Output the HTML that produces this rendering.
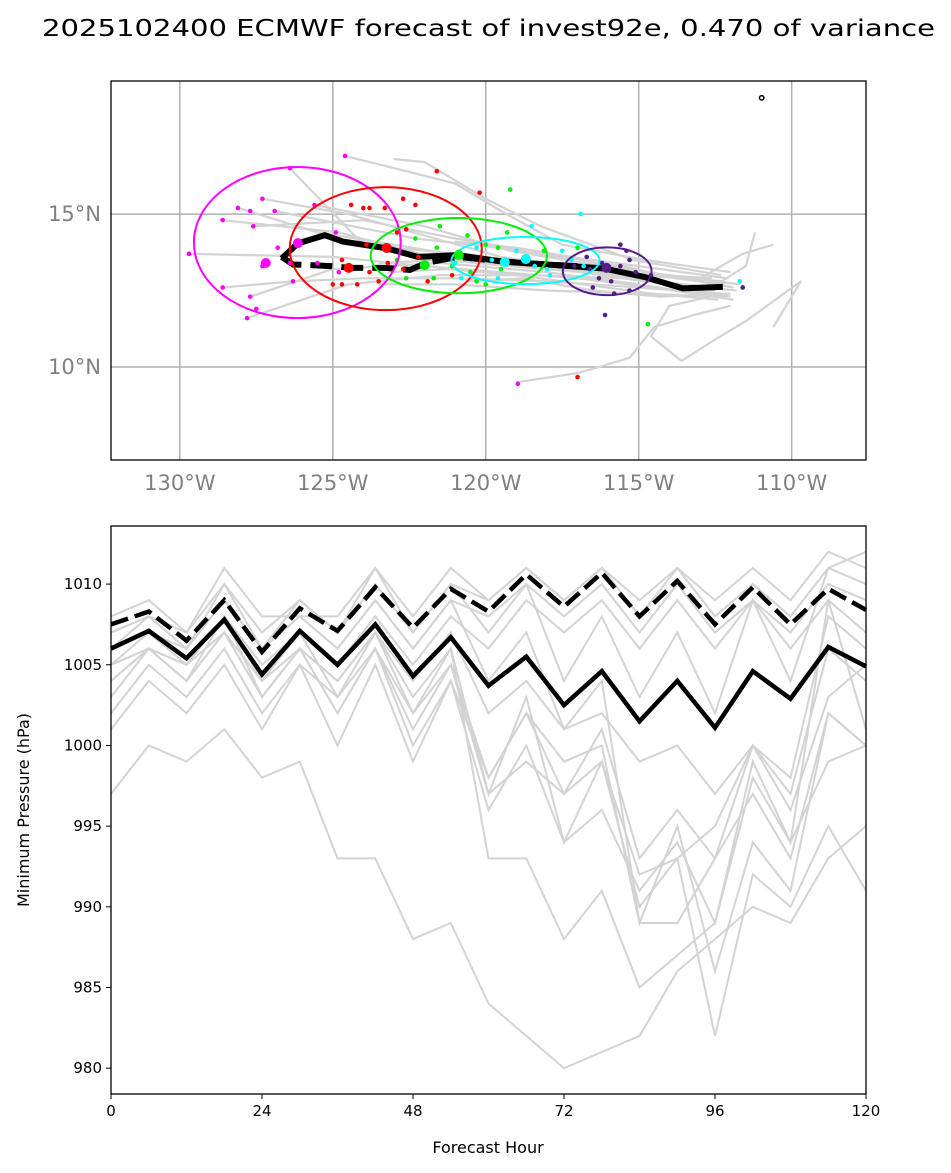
<!DOCTYPE html>
<html><head><meta charset="utf-8"><style>
body{margin:0;background:#fff;}
svg{display:block;font-family:"DejaVu Sans","Liberation Sans",sans-serif;}
</style></head><body>
<svg id="fig" width="951" height="1173" viewBox="0 0 951 1173">
<text x="42" y="36" font-size="23" textLength="893" lengthAdjust="spacingAndGlyphs">2025102400 ECMWF forecast of invest92e, 0.470 of variance</text>
<g id="map"></g>
<g id="pres"></g>
</svg>
<script>
// ---------- MAP DATA ----------
const meanTrack=[[-126.67,13.55],[-126.14,14.04],[-125.26,14.31],[-124.67,14.1],[-123.24,13.88],[-122.22,13.6],[-120.92,13.66],[-119.38,13.44],[-117.68,13.33],[-116.14,13.22],[-114.84,12.95],[-113.56,12.57],[-112.25,12.62]];
const medianTrack=[[-126.67,13.6],[-126.3,13.35],[-125.75,13.33],[-125.07,13.3],[-124.41,13.24],[-123.24,13.24],[-122.48,13.17],[-121.96,13.4],[-120.92,13.6],[-119.4,13.45],[-118.0,13.35],[-117.0,13.3]];
const ellipseColors=["#ff00ff","#ff0000","#00ee00","#00ffff","#551a8b"];
const ellipseCenters=[[-126.16,14.07],[-123.27,13.87],[-120.88,13.64],[-118.7,13.48],[-116.03,13.13]];
const ellipseRadii=[[3.38,2.47],[3.14,2.01],[2.88,1.23],[2.42,0.77],[1.45,0.78]];
const bigDots=[[-127.19,13.4,0],[-126.14,14.05,0],[-124.48,13.24,1],[-123.24,13.89,1],[-122.0,13.33,2],[-120.88,13.66,2],[-119.38,13.43,3],[-118.69,13.53,3],[-116.05,13.24,4]];
const magentaDots=[[-129.7,13.7],[-128.6,14.8],[-128.1,15.2],[-127.7,15.1],[-127.6,14.6],[-127.3,15.5],[-126.4,16.5],[-126.9,15.1],[-124.6,16.9],[-128.6,12.6],[-127.8,11.6],[-127.7,12.3],[-127.3,13.3],[-126.8,13.9],[-126.3,12.8],[-125.5,13.4],[-127.5,11.9],[-124.9,14.4],[-125.6,15.3],[-126.4,13.4],[-124.8,13.1],[-118.95,9.45]];
const redDots=[[-124.4,15.3],[-124.0,15.2],[-123.8,15.2],[-123.3,15.2],[-122.7,15.5],[-122.3,15.3],[-122.9,14.4],[-121.6,16.4],[-120.2,15.7],[-124.7,13.5],[-124.4,13.2],[-124.7,12.7],[-124.2,12.7],[-123.8,13.1],[-123.2,13.4],[-122.7,13.2],[-122.2,13.6],[-121.9,12.8],[-121.1,13.0],[-123.9,14.0],[-122.6,14.5],[-117.0,9.67],[-125.0,12.7],[-123.5,12.8]];
const greenDots=[[-119.2,15.8],[-121.5,14.6],[-122.3,14.2],[-121.6,13.9],[-120.6,14.3],[-120.0,14.0],[-119.6,13.9],[-119.3,14.4],[-120.5,13.1],[-121.7,12.9],[-122.6,12.9],[-122.9,13.5],[-120.0,12.7],[-118.1,13.8],[-114.7,11.4],[-121.1,13.3],[-119.5,13.2],[-120.3,12.8],[-117.0,13.9]];
const cyanDots=[[-116.9,15.0],[-118.5,14.6],[-120.3,13.9],[-119.8,13.5],[-119.0,13.8],[-118.4,13.3],[-117.9,13.0],[-119.6,12.9],[-120.8,12.9],[-117.2,13.5],[-116.8,13.3],[-117.5,13.8],[-111.7,12.8],[-121.0,13.4],[-118.0,13.2]];
const purpleDots=[[-115.6,14.0],[-115.4,13.8],[-116.2,13.4],[-116.5,12.6],[-115.8,12.4],[-115.3,12.5],[-114.6,13.0],[-115.1,13.1],[-116.6,13.2],[-116.1,11.7],[-117.1,13.3],[-115.6,13.3],[-111.6,12.6],[-116.3,12.9],[-115.9,12.8],[-116.7,13.6],[-115.3,13.5]];
const grayTracks=[
[[-111.8,12.5],[-114,12.7],[-116,13.0],[-118.5,13.4],[-121,13.7],[-124,14.0],[-126.4,16.5]],
[[-112,12.3],[-114.5,12.8],[-117,13.2],[-119.5,13.6],[-122,14.3],[-124.5,15.0],[-127.3,15.5]],
[[-112.2,12.8],[-115,13.0],[-117.5,13.3],[-120,13.5],[-123,14.0],[-125.5,14.4],[-128.1,15.2]],
[[-111.9,12.2],[-114.5,12.6],[-117,12.9],[-119.5,13.1],[-122,13.3],[-125,13.6],[-129.7,13.7]],
[[-112.3,12.4],[-115,12.6],[-118,12.8],[-121,12.9],[-124,12.9],[-126.3,12.8],[-128.6,12.6]],
[[-112.5,12.6],[-115.5,12.9],[-118.5,13.0],[-121.5,13.0],[-124.5,12.7],[-127.8,11.6]],
[[-112.1,12.9],[-115,13.3],[-118,13.7],[-121,14.2],[-124,14.8],[-127.6,14.6]],
[[-112,13.1],[-114.8,13.5],[-117.5,14.0],[-119.5,15.1],[-121,16.0],[-124.6,16.9]],
[[-112.4,12.3],[-115,12.7],[-118,13.1],[-121.5,13.4],[-125,13.2],[-127.7,12.3]],
[[-111.7,12.7],[-114,13.0],[-116.8,13.4],[-119.2,13.8],[-122,14.6],[-125.6,15.3]],
[[-112.6,12.9],[-115.8,13.1],[-118.8,13.3],[-121.8,13.6],[-124.8,14.4],[-128.6,14.8]],
[[-112.0,12.0],[-113.2,11.7],[-114.5,11.3],[-115.3,10.3],[-116.3,10.0],[-117.0,9.8],[-119.0,9.5]],
[[-112.2,12.4],[-114.0,12.0],[-114.6,11.0],[-113.6,10.2],[-112.5,10.9],[-111.5,11.5],[-109.7,12.8],[-110.6,11.3]],
[[-112.6,12.6],[-111.5,13.3],[-111.2,14.4]],
[[-113,12.9],[-111.6,13.7],[-110.6,14.0]],
[[-112.1,12.3],[-115,12.4],[-118,12.5],[-121,12.7],[-123.5,12.7]],
[[-112.3,13.0],[-115.2,13.5],[-118.2,14.6],[-120,15.5],[-122,16.7],[-123,16.8]],
[[-111.9,12.6],[-114.2,13.0],[-116.9,13.5],[-119.6,13.9],[-122.3,14.2],[-126.9,15.1]],
[[-112.4,12.2],[-114.6,12.4],[-116.8,12.7],[-119,13.0],[-121.2,13.2],[-123.2,13.1]],
[[-112.0,12.4],[-114.3,12.3],[-116.5,12.5],[-118.8,12.9],[-120.6,12.8]],
[[-112.5,12.5],[-114.8,12.8],[-116.9,13.1],[-119.2,13.3],[-121.4,13.5],[-123.5,13.4]],
[[-112.2,12.7],[-113.8,12.9],[-115.5,13.3],[-117.2,13.6],[-119,13.9],[-121,14.1]]
];
// ---------- PRESSURE DATA ----------
const hours=[0,6,12,18,24,30,36,42,48,54,60,66,72,78,84,90,96,102,108,114,120];
const meanPres=[1006,1007.1,1005.4,1007.8,1004.4,1007.1,1005,1007.5,1004.3,1006.7,1003.7,1005.5,1002.5,1004.6,1001.5,1004,1001.1,1004.6,1002.9,1006.1,1004.9];
const medianPres=[1007.5,1008.3,1006.5,1009,1005.8,1008.5,1007.1,1009.8,1007.3,1009.7,1008.3,1010.6,1008.6,1010.7,1008,1010.2,1007.5,1009.8,1007.5,1009.7,1008.4];
const memberPres=[
[1008,1009,1007,1011,1008,1008,1008,1011,1008,1011,1009,1011,1009,1011,1009,1011,1009,1011,1009,1012,1011],
[1007,1008,1006,1010,1007,1009,1007,1010,1007,1010,1009,1011,1009,1011,1008,1011,1008,1010,1008,1011,1010],
[1006,1007,1006,1009,1006,1008,1006,1009,1006,1009,1008,1010,1008,1010,1007,1010,1007,1009,1007,1010,1009],
[1005,1006,1005,1008,1005,1007,1005,1008,1005,1008,1006,1009,1007,1009,1006,1009,1006,1009,1006,1009,1007],
[1005,1006,1004,1007,1003,1006,1004,1007,1004,1007,1002,1004,1001,1002,999,1000,997,1000,998,1008,1006],
[1004,1006,1004,1008,1004,1007,1003,1007,1003,1006,997,1003,994,999,990,993,995,1000,997,1006,1004],
[1002,1005,1003,1006,1002,1005,1003,1006,1002,1005,997,999,997,1001,993,996,993,997,993,1002,1000],
[1001,1004,1002,1005,1001,1005,1000,1005,999,1004,996,1000,994,996,991,994,989,999,994,1009,1001],
[1003,1006,1004,1007,1003,1006,1002,1006,1000,1004,998,1002,999,1000,989,995,986,994,991,1002,1000],
[1005,1007,1005,1008,1003,1006,1002,1006,1001,1005,998,1002,997,999,992,993,982,992,990,995,991],
[997,1000,999,1001,998,999,993,993,988,989,984,982,980,981,982,986,988,990,989,993,995],
[1004,1006,1005,1007,1004,1006,1004,1007,1002,1006,993,993,988,991,985,987,989,998,994,999,1000],
[1006,1008,1006,1009,1006,1008,1006,1009,1006,1009,1004,1007,1001,1004,989,989,993,1000,996,1003,1005],
[1007,1008,1007,1010,1006,1009,1007,1011,1007,1010,1007,1010,1004,1008,1003,1007,1002,1009,1004,1011,1012]
];
const xTicks=[0,24,48,72,96,120];
const yTicks=[980,985,990,995,1000,1005,1010];
const lonTicks=[-130,-125,-120,-115,-110];
const latTicks=[10,15];

const NS="http://www.w3.org/2000/svg";
function mk(parent,tag,attrs){const e=document.createElementNS(NS,tag);for(const k in attrs)e.setAttribute(k,attrs[k]);parent.appendChild(e);return e;}
const mL=111,mR=866,mT=81,mB=460;
const lonMin=-132.25,lonMax=-107.57,latMin=6.96,latMax=19.35;
const px=lon=>mL+(lon-lonMin)/(lonMax-lonMin)*(mR-mL);
const py=lat=>mB-(lat-latMin)/(latMax-latMin)*(mB-mT);
const map=document.getElementById('map');
const pts=a=>a.map(p=>px(p[0]).toFixed(1)+','+py(p[1]).toFixed(1)).join(' ');
lonTicks.forEach(l=>{
  const g=mk(map,'line',{x1:px(l),x2:px(l),y1:mT,y2:mB,stroke:'#b0b0b0','stroke-width':1.5});
  
  
  const t=mk(map,'text',{x:px(l),y:490,'font-size':21,fill:'#808080','text-anchor':'middle'});
  t.textContent=Math.abs(l)+'°W';
  
  
});
latTicks.forEach(l=>{
  const g=mk(map,'line',{x1:mL,x2:mR,y1:py(l),y2:py(l),stroke:'#b0b0b0','stroke-width':1.5});
  
  
  const t=mk(map,'text',{x:101,y:py(l)+7,'font-size':21,fill:'#808080','text-anchor':'end'});
  t.textContent=l+'°N';
  
  
});
grayTracks.forEach(tr=>{
  const e=mk(map,'polyline',{points:pts(tr),fill:'none',stroke:'#d3d3d3','stroke-width':2.2,'stroke-linejoin':'round'});
  
  
});
const mt=mk(map,'polyline',{points:pts(meanTrack),fill:'none',stroke:'#000','stroke-width':6});


const md=mk(map,'polyline',{points:pts(medianTrack),fill:'none',stroke:'#000','stroke-width':6,'stroke-dasharray':'22,9'});


[[magentaDots,0],[redDots,1],[greenDots,2],[cyanDots,3],[purpleDots,4]].forEach(([arr,ci])=>{
  arr.forEach(p=>{
    const c=mk(map,'circle',{cx:px(p[0]),cy:py(p[1]),r:2.3,fill:ellipseColors[ci]});
    
    
  });
});
ellipseCenters.forEach((c,i)=>{
  const e=mk(map,'ellipse',{cx:px(c[0]),cy:py(c[1]),rx:px(c[0]+ellipseRadii[i][0])-px(c[0]),ry:py(c[1])-py(c[1]+ellipseRadii[i][1]),fill:'none',stroke:ellipseColors[i],'stroke-width':2});
  
  
});
bigDots.forEach(p=>{
  const c=mk(map,'circle',{cx:px(p[0]),cy:py(p[1]),r:5,fill:ellipseColors[p[2]]});
  
  
});
const sq=mk(map,'circle',{cx:px(-110.98),cy:py(18.8),r:2.2,fill:'none',stroke:'#000','stroke-width':1.5});


const mbox=mk(map,'rect',{x:mL,y:mT,width:mR-mL,height:mB-mT,fill:'none',stroke:'#000','stroke-width':1.3});



const pL=111,pR=866,pT=526,pB=1094;
const bx=h=>pL+h/120*(pR-pL);
const pMin=978.4,pMax=1013.6;
const by=v=>pB-(v-pMin)/(pMax-pMin)*(pB-pT);
const pres=document.getElementById('pres');
const lp=a=>a.map((v,i)=>bx(hours[i]).toFixed(1)+','+by(v).toFixed(1)).join(' ');
memberPres.forEach(s=>{
  const e=mk(pres,'polyline',{points:lp(s),fill:'none',stroke:'#d3d3d3','stroke-width':2});
  
  
});
const pm=mk(pres,'polyline',{points:lp(meanPres),fill:'none',stroke:'#000','stroke-width':4.5});


const pd=mk(pres,'polyline',{points:lp(medianPres),fill:'none',stroke:'#000','stroke-width':4.5,'stroke-dasharray':'18,7'});


const pbox=mk(pres,'rect',{x:pL,y:pT,width:pR-pL,height:pB-pT,fill:'none',stroke:'#000','stroke-width':1.3});


xTicks.forEach(h=>{
  const l=mk(pres,'line',{x1:bx(h),x2:bx(h),y1:pB,y2:pB+5,stroke:'#000','stroke-width':1});
  
  
  const t=mk(pres,'text',{x:bx(h),y:pB+22,'font-size':15,'text-anchor':'middle'});
  t.textContent=h;
  
  
});
yTicks.forEach(v=>{
  const l=mk(pres,'line',{x1:pL-5,x2:pL,y1:by(v),y2:by(v),stroke:'#000','stroke-width':1});
  
  
  const t=mk(pres,'text',{x:pL-9,y:by(v)+5,'font-size':15,'text-anchor':'end'});
  t.textContent=v;
  
  
});
const xt=mk(pres,'text',{x:488,y:1153,'font-size':16,'text-anchor':'middle'});
xt.textContent='Forecast Hour';


const yt=mk(pres,'text',{x:29,y:810,'font-size':16,'text-anchor':'middle',transform:'rotate(-90 29 810)'});
yt.textContent='Minimum Pressure (hPa)';


</script>
</body></html>
